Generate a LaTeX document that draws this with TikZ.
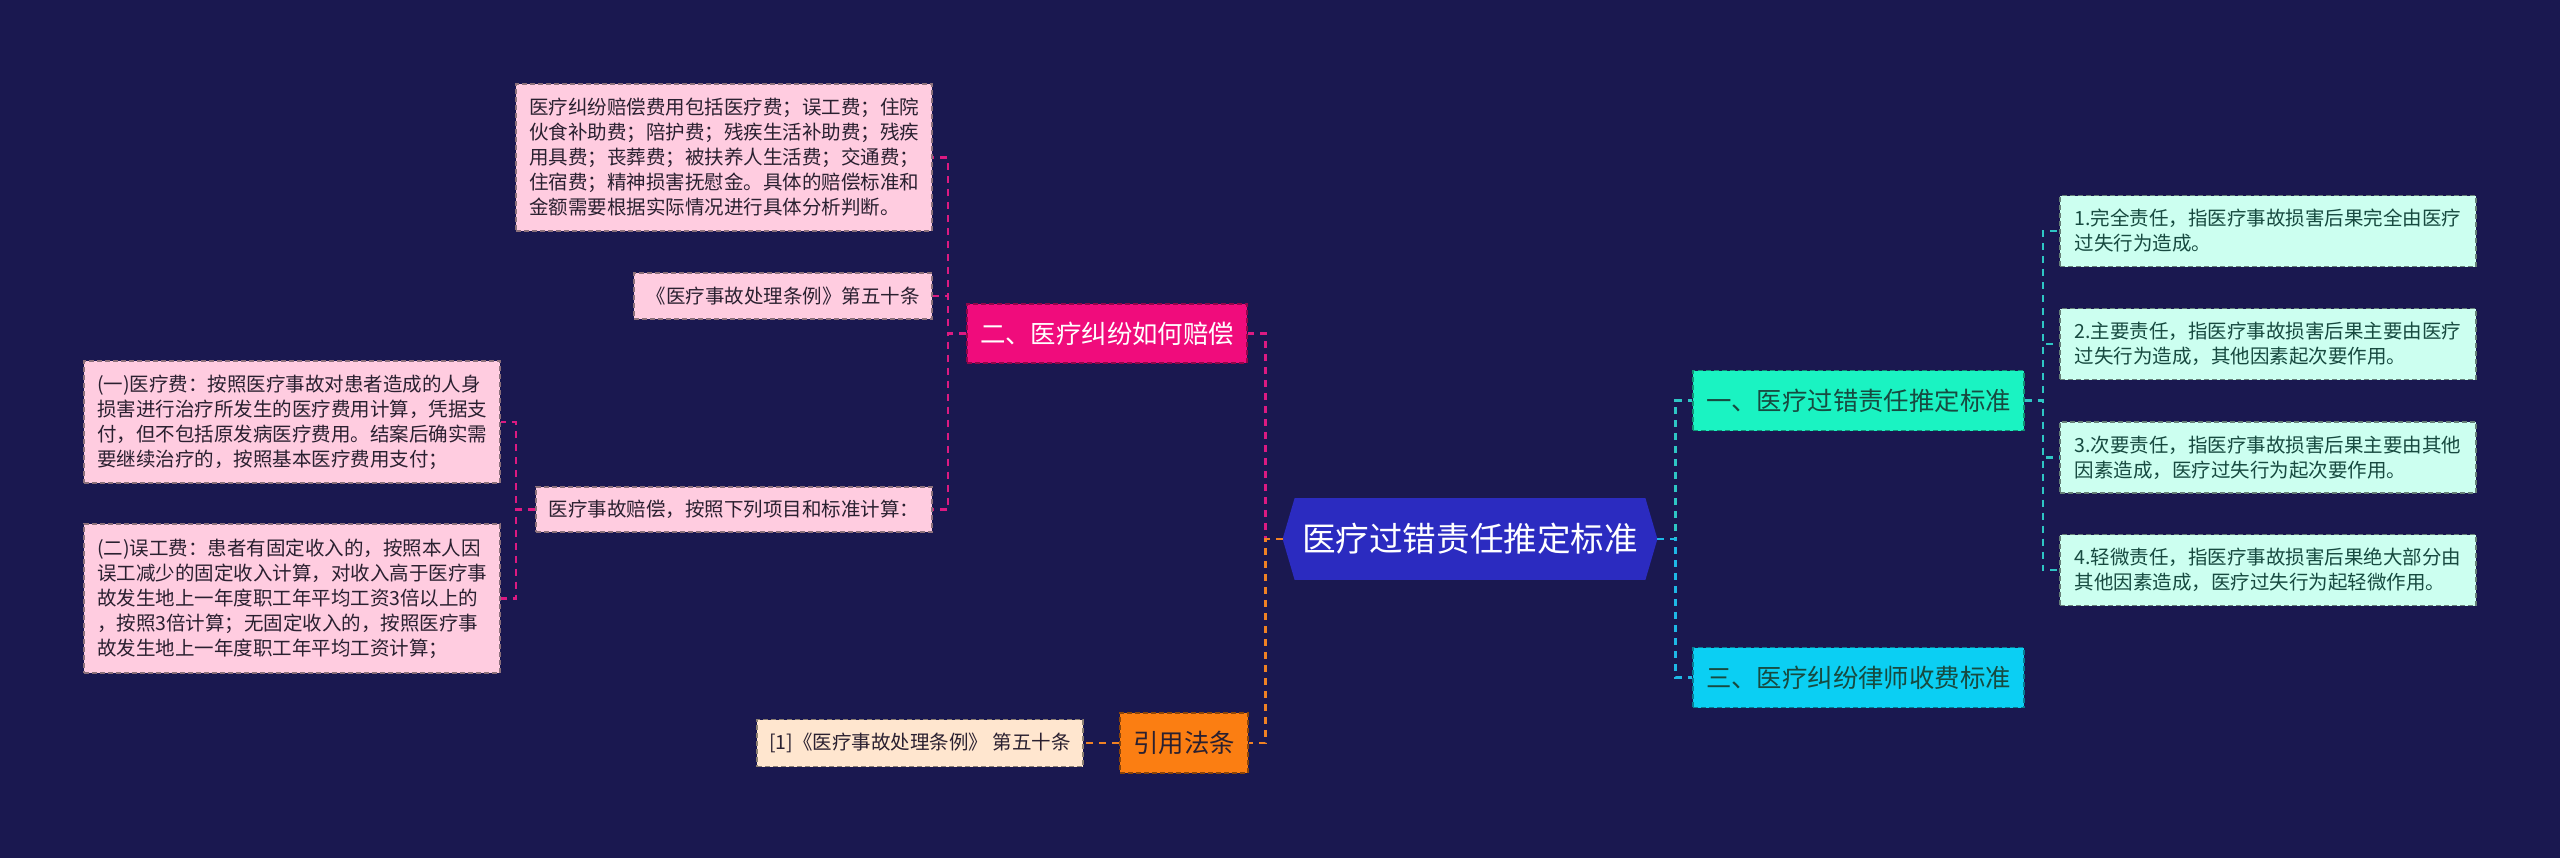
\documentclass[tikz,border=0pt]{standalone}
\usepackage{fontspec}
\setmainfont{Noto Sans CJK SC}
\usetikzlibrary{backgrounds}
\definecolor{bgc}{HTML}{1A1850}
\definecolor{rootfill}{HTML}{2B2BC0}
\definecolor{tealfill}{HTML}{1AF3C2}
\definecolor{cyanfill}{HTML}{0BCFF3}
\definecolor{pinkfill}{HTML}{F00C7C}
\definecolor{orangefill}{HTML}{FB7E12}
\definecolor{pinkleaf}{HTML}{FFCCE0}
\definecolor{peachleaf}{HTML}{FFE6CF}
\definecolor{mintleaf}{HTML}{CCFFF0}
\definecolor{tealline}{HTML}{2EC6C4}
\definecolor{cyanline}{HTML}{1EB8E6}
\definecolor{pinkline}{HTML}{DC1A82}
\definecolor{orangeline}{HTML}{F08224}
\definecolor{darktext}{HTML}{2A2030}
\definecolor{greentext}{HTML}{174A40}
\newcommand\leaffont{\fontsize{9.75pt}{12.5pt}\selectfont}
\newcommand\brfont{\fontsize{12.7pt}{15pt}\selectfont}
\newcommand\rtfont{\fontsize{16.8pt}{20pt}\selectfont}
\tikzset{
  boxbase/.style={rectangle, dash pattern=on 2.5pt off 1.5pt, line width=0.8pt, inner xsep=5.5pt, inner ysep=0pt, align=left},
  pinkbox/.style={boxbase, fill=pinkleaf, draw=pinkleaf!55!black, text=darktext, font=\leaffont, minimum height=#1},
  peachbox/.style={boxbase, fill=peachleaf, draw=peachleaf!55!black, text=darktext, font=\leaffont, minimum height=23.5pt},
  mintbox/.style={boxbase, fill=mintleaf, draw=mintleaf!50!black, text=greentext, font=\leaffont, minimum width=208pt, minimum height=35.5pt},
  branch/.style={boxbase, font=\brfont, minimum height=30pt},
  edge/.style={line width=1.2pt, dash pattern=on 3.5pt off 3pt},
}
\begin{document}
\begin{tikzpicture}[x=0.5pt,y=-0.5pt]
\useasboundingbox (0,0) rectangle (2560,858);
% root
\node[font=\rtfont, text=white, minimum width=175pt, minimum height=40.5pt, inner sep=0pt] (root) at (1470,539) {医疗过错责任推定标准};
\coordinate (rootR) at ([xshift=6pt]root.east);
\coordinate (rootL) at ([xshift=-6pt]root.west);
\begin{scope}[on background layer]
  \fill[bgc] (0,0) rectangle (2560,858);
  \fill[rootfill] (root.north west) -- (root.north east) -- (rootR) -- (root.south east) -- (root.south west) -- (rootL) -- cycle;
\end{scope}

% right branches
\node[branch, fill=tealfill, draw=tealfill!60!black, text=greentext, minimum width=165.5pt] (n1) at (1858.5,400.5) {一、医疗过错责任推定标准};
\node[branch, fill=cyanfill, draw=cyanfill!60!black, text=greentext, minimum width=165.5pt] (n3) at (1858.5,677.5) {三、医疗纠纷律师收费标准};

\node[mintbox] (r1) at (2268,231) {1.完全责任，指医疗事故损害后果完全由医疗\\过失行为造成。};
\node[mintbox] (r2) at (2268,344) {2.主要责任，指医疗事故损害后果主要由医疗\\过失行为造成，其他因素起次要作用。};
\node[mintbox] (r3) at (2268,457.5) {3.次要责任，指医疗事故损害后果主要由其他\\因素造成，医疗过失行为起次要作用。};
\node[mintbox] (r4) at (2268,570) {4.轻微责任，指医疗事故损害后果绝大部分由\\其他因素造成，医疗过失行为起轻微作用。};

% left branches
\node[branch, fill=pinkfill, draw=pinkfill!60!black, text=white, minimum width=140pt, minimum height=29.5pt] (n2) at (1107,333.5) {二、医疗纠纷如何赔偿};
\node[branch, fill=orangefill, draw=orangefill!55!black, text=darktext, minimum width=64pt] (law) at (1184,743) {引用法条};

\node[pinkbox=73.5pt, minimum width=208pt] (a1) at (724,157.5) {医疗纠纷赔偿费用包括医疗费；误工费；住院\\伙食补助费；陪护费；残疾生活补助费；残疾\\用具费；丧葬费；被扶养人生活费；交通费；\\住宿费；精神损害抚慰金。具体的赔偿标准和\\金额需要根据实际情况进行具体分析判断。};
\node[pinkbox=23pt, minimum width=149pt] (a2) at (783,296) {《医疗事故处理条例》第五十条};
\node[pinkbox=22.5pt, minimum width=198pt] (a3) at (734,509.5) {医疗事故赔偿，按照下列项目和标准计算：};

\node[pinkbox=61pt, minimum width=208pt] (b1) at (292,422) {(一)医疗费：按照医疗事故对患者造成的人身\\损害进行治疗所发生的医疗费用计算，凭据支\\付，但不包括原发病医疗费用。结案后确实需\\要继续治疗的，按照基本医疗费用支付；};
\node[pinkbox=74.5pt, minimum width=208pt] (b2) at (292,598.5) {(二)误工费：患者有固定收入的，按照本人因\\误工减少的固定收入计算，对收入高于医疗事\\故发生地上一年度职工年平均工资3倍以上的\\，按照3倍计算；无固定收入的，按照医疗事\\故发生地上一年度职工年平均工资计算；};

\node[peachbox, minimum width=163pt] (c1) at (920,743) {[1]《医疗事故处理条例》 第五十条};

% connectors
\draw[edge, tealline] (rootR) -- ++(18,0) |- (n1.west);
\draw[edge, cyanline] (rootR) -- ++(18,0) |- (n3.west);
\draw[edge, tealline] (n1.east) -- ++(18,0) |- (r1.west);
\draw[edge, tealline] (n1.east) -- ++(18,0) |- (r2.west);
\draw[edge, tealline] (n1.east) -- ++(18,0) |- (r3.west);
\draw[edge, tealline] (n1.east) -- ++(18,0) |- (r4.west);

\draw[edge, pinkline] (rootL) -- ++(-17,0) |- (n2.east);
\draw[edge, orangeline] (rootL) -- ++(-17,0) |- (law.east);
\draw[edge, pinkline] (n2.west) -- ++(-18,0) |- (a1.east);
\draw[edge, pinkline] (n2.west) -- ++(-18,0) |- (a2.east);
\draw[edge, pinkline] (n2.west) -- ++(-18,0) |- (a3.east);
\draw[edge, pinkline] (a3.west) -- ++(-19,0) |- (b1.east);
\draw[edge, pinkline] (a3.west) -- ++(-19,0) |- (b2.east);
\draw[edge, orangeline] (law.west) -- (c1.east);
\end{tikzpicture}
\end{document}
